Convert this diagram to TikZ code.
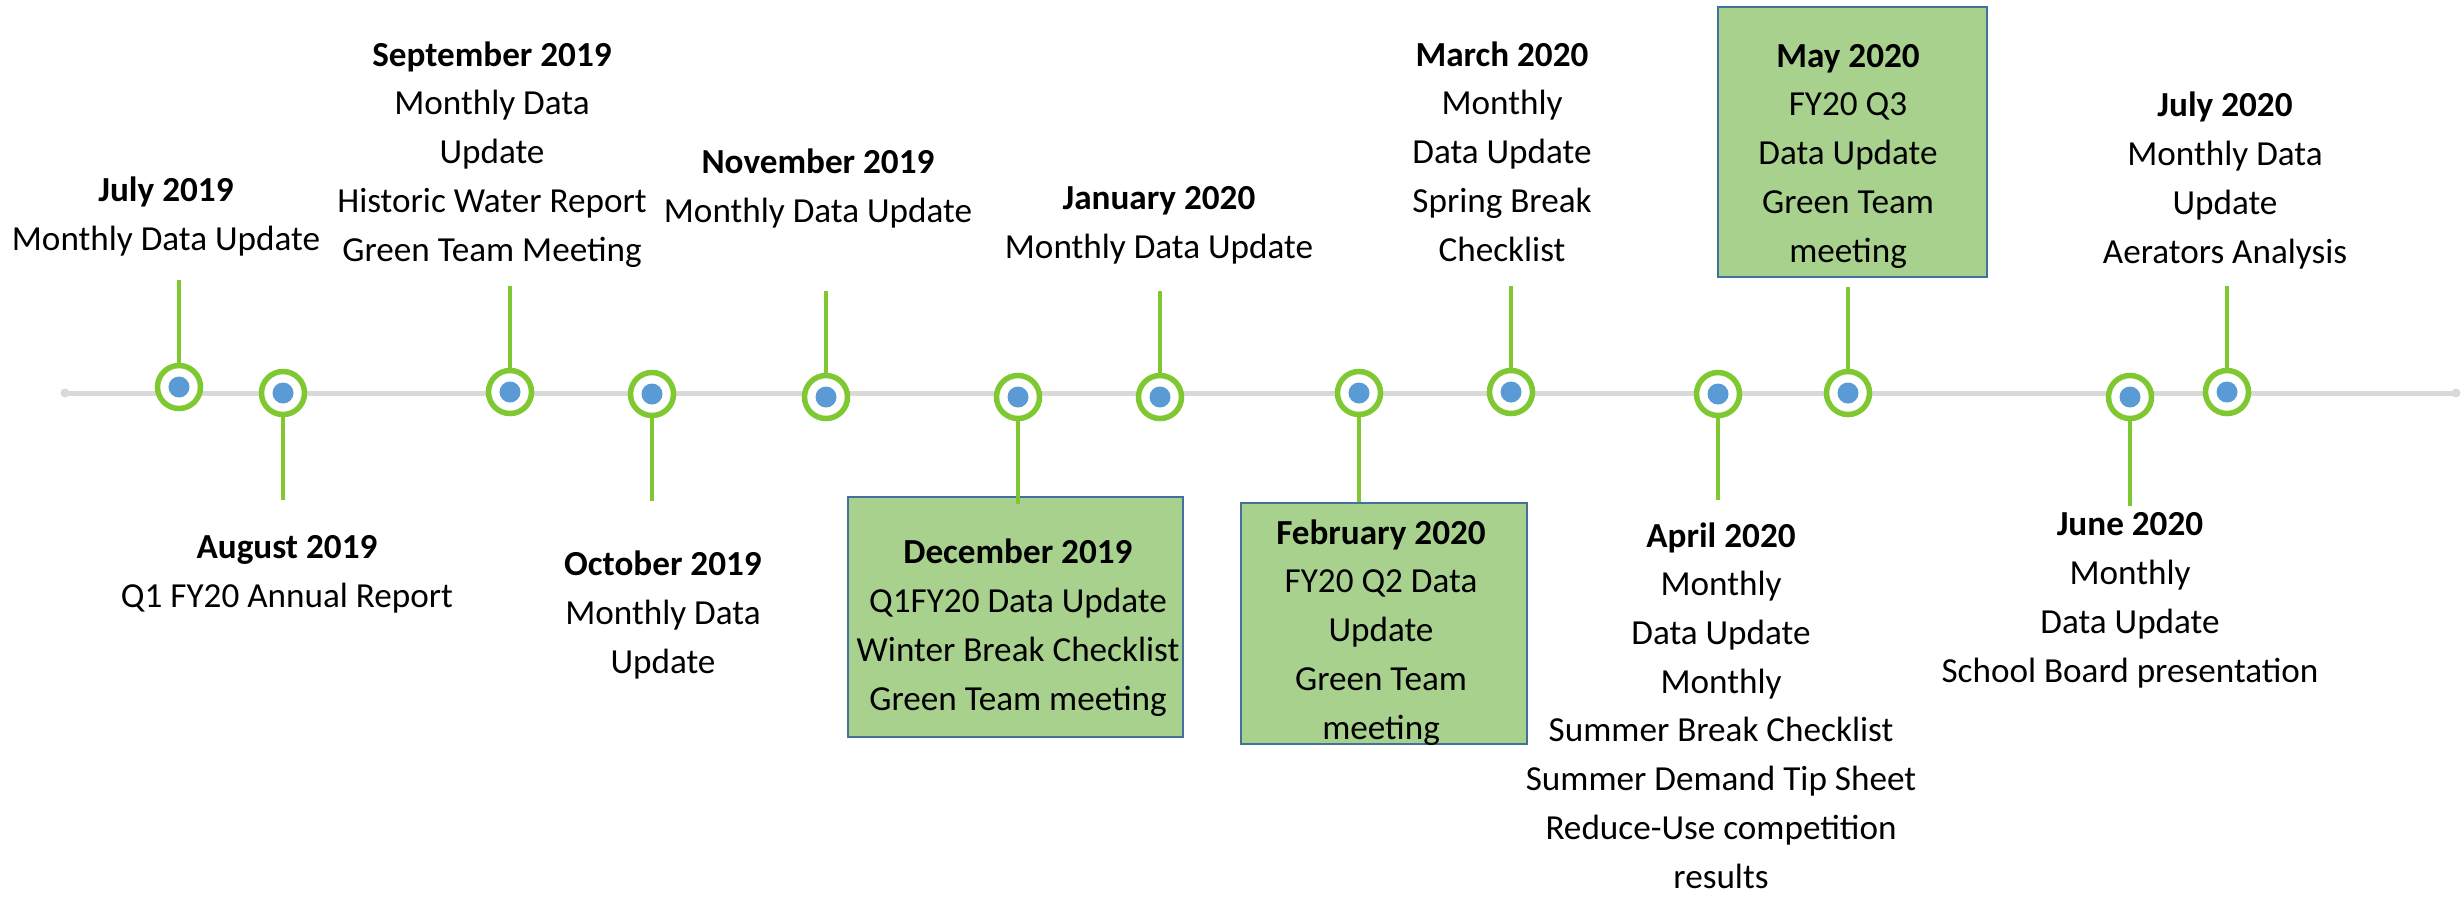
\documentclass[tikz,border=0pt]{standalone}
\usepackage{fontspec}
\setmainfont{Carlito}
\definecolor{axisgray}{RGB}{217,217,217}
\definecolor{ringgreen}{RGB}{128,200,50}
\definecolor{dotblue}{RGB}{91,155,213}
\definecolor{boxgreen}{RGB}{169,209,142}
\definecolor{boxblue}{RGB}{65,113,156}
\begin{document}
\begin{tikzpicture}[x=0.01cm, y=-0.01cm,
    font=\fontsize{10pt}{13.85pt}\selectfont,
    ring/.style={circle, draw=ringgreen, line width=0.055cm, fill=white, minimum size=0.43cm, inner sep=0pt},
    stem/.style={ringgreen, line width=0.04cm},
    event/.style={align=center, anchor=base, inner sep=0pt},
    hilite/.style={draw=boxblue, fill=boxgreen, line width=0.025cm, inner sep=0pt}]
    \useasboundingbox (0,0) rectangle (2463,896);

	% Draw axis
	\coordinate (axis_l) at (65,393);
	\coordinate (axis_r) at (2456,393);
	\draw[axisgray, line width=0.05cm, line cap=round] (axis_l) -- (axis_r);
	\fill[axisgray] (axis_l) circle (0.045cm);
	\fill[axisgray] (axis_r) circle (0.045cm);

	% Highlight boxes
	\node[hilite, minimum width=3.35cm, minimum height=2.40cm] (dec19_b) at (1015.5,617) {};
	\node[hilite, minimum width=2.86cm, minimum height=2.41cm] (feb20_b) at (1384,623.5) {};
	\node[hilite, minimum width=2.69cm, minimum height=2.70cm] (may20_b) at (1852.5,142) {};

	% Milestones
	\node[ring] (jul19) at (179,387) {};
	\node[ring] (aug19) at (283,393) {};
	\node[ring] (sep19) at (510,392) {};
	\node[ring] (oct19) at (652,394) {};
	\node[ring] (nov19) at (826,397) {};
	\node[ring] (dec19) at (1018,397) {};
	\node[ring] (jan20) at (1160,397) {};
	\node[ring] (feb20) at (1359,393) {};
	\node[ring] (mar20) at (1511,392) {};
	\node[ring] (apr20) at (1718,394) {};
	\node[ring] (may20) at (1848,393) {};
	\node[ring] (jun20) at (2130,397) {};
	\node[ring] (jul20) at (2227,392) {};

	% Stems
	\coordinate (jul19_s) at (179,280);
	\coordinate (aug19_s) at (283,500);
	\coordinate (sep19_s) at (510,286);
	\coordinate (oct19_s) at (652,501);
	\coordinate (nov19_s) at (826,291);
	\coordinate (jan20_s) at (1160,291);
	\coordinate (mar20_s) at (1511,286);
	\coordinate (apr20_s) at (1718,500);
	\coordinate (may20_s) at (1848,287);
	\coordinate (jun20_s) at (2130,506);
	\coordinate (jul20_s) at (2227,286);
	\draw[stem] (jul19) -- (jul19_s);
	\draw[stem] (aug19) -- (aug19_s);
	\draw[stem] (sep19) -- (sep19_s);
	\draw[stem] (oct19) -- (oct19_s);
	\draw[stem] (nov19) -- (nov19_s);
	\draw[stem] (dec19) -- ([yshift=-0.08cm]dec19 |- dec19_b.north);
	\draw[stem] (jan20) -- (jan20_s);
	\draw[stem] (feb20) -- (feb20 |- feb20_b.north);
	\draw[stem] (mar20) -- (mar20_s);
	\draw[stem] (apr20) -- (apr20_s);
	\draw[stem] (may20) -- (may20_s);
	\draw[stem] (jun20) -- (jun20_s);
	\draw[stem] (jul20) -- (jul20_s);

	% Dots
	\foreach \m in {jul19,aug19,sep19,oct19,nov19,dec19,jan20,feb20,mar20,apr20,may20,jun20,jul20}
	    \fill[dotblue] (\m) circle (0.105cm);

	% Labels above (placed at the baseline of the last line)
	\node[event] (jul19_t) at (166,250) {\textbf{July 2019}\\Monthly Data Update};
	\node[event] (sep19_t) at (492,261) {\textbf{September 2019}\\Monthly Data\\Update\\Historic Water Report\\Green Team Meeting};
	\node[event] (nov19_t) at (818,222) {\textbf{November 2019}\\Monthly Data Update};
	\node[event] (jan20_t) at (1159,258) {\textbf{January 2020}\\Monthly Data Update};
	\node[event] (mar20_t) at (1502,261) {\textbf{March 2020}\\Monthly\\Data Update\\Spring Break\\Checklist};
	\node[event] (may20_t) at (1848,262) {\textbf{May 2020}\\FY20 Q3\\Data Update\\Green Team\\meeting};
	\node[event] (jul20_t) at (2225,263) {\textbf{July 2020}\\Monthly Data\\Update\\Aerators Analysis};

	% Labels below
	\node[event] (aug19_t) at (287,607) {\textbf{August 2019}\\Q1 FY20 Annual Report};
	\node[event] (oct19_t) at (663,673) {\textbf{October 2019}\\Monthly Data\\Update};
	\node[event] (dec19_t) at (1018,710) {\textbf{December 2019}\\Q1FY20 Data Update\\Winter Break Checklist\\Green Team meeting};
	\node[event] (feb20_t) at (1381,739) {\textbf{February 2020}\\FY20 Q2 Data\\Update\\Green Team\\meeting};
	\node[event] (apr20_t) at (1721,888) {\textbf{April 2020}\\Monthly\\Data Update\\Monthly\\Summer Break Checklist\\Summer Demand Tip Sheet\\Reduce-Use competition\\results};
	\node[event] (jun20_t) at (2130,682) {\textbf{June 2020}\\Monthly\\Data Update\\School Board presentation};

\end{tikzpicture}
\end{document}
